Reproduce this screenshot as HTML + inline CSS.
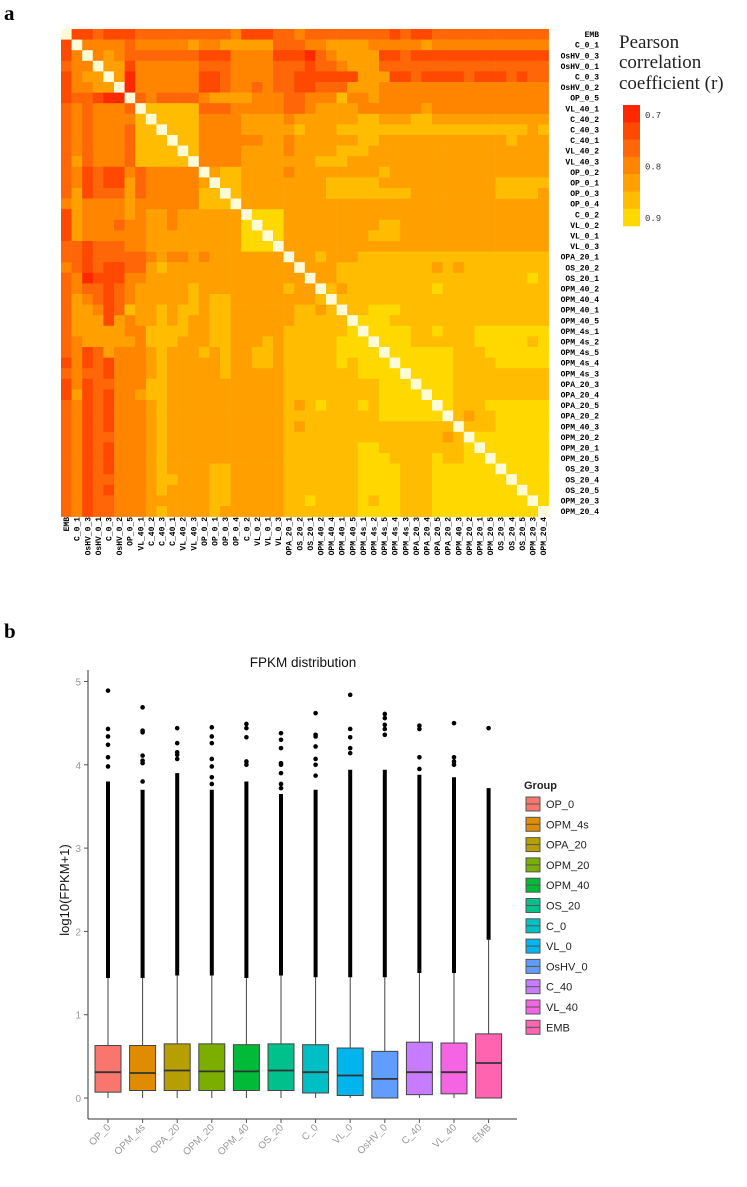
<!DOCTYPE html>
<html><head><meta charset="utf-8">
<style>
html,body{margin:0;padding:0;background:#fff;}
body{width:747px;height:1187px;overflow:hidden;}
svg{display:block;}
</style></head>
<body>
<svg id="fig" width="747" height="1187" viewBox="0 0 747 1187" xmlns="http://www.w3.org/2000/svg">
<text x="4" y="20" font-family="Liberation Serif, serif" font-weight="bold" font-size="21">a</text>
<text x="4" y="638" font-family="Liberation Serif, serif" font-weight="bold" font-size="21">b</text>
<g id="heat"></g>
<g id="legendA">
<text x="619" y="48" font-family="Liberation Serif, serif" font-size="19" fill="#222">Pearson</text>
<text x="619" y="68" font-family="Liberation Serif, serif" font-size="19" fill="#222">correlation</text>
<text x="619" y="89" font-family="Liberation Serif, serif" font-size="19" fill="#222">coefficient (r)</text>
</g>
<g id="box"></g>
</svg>
<script>
const labels=["EMB","C_0_1","OsHV_0_3","OsHV_0_1","C_0_3","OsHV_0_2","OP_0_5","VL_40_1","C_40_2","C_40_3","C_40_1","VL_40_2","VL_40_3","OP_0_2","OP_0_1","OP_0_3","OP_0_4","C_0_2","VL_0_2","VL_0_1","VL_0_3","OPA_20_1","OS_20_2","OS_20_1","OPM_40_2","OPM_40_4","OPM_40_1","OPM_40_5","OPM_4s_1","OPM_4s_2","OPM_4s_5","OPM_4s_4","OPM_4s_3","OPA_20_3","OPA_20_4","OPA_20_5","OPA_20_2","OPM_40_3","OPM_20_2","OPM_20_1","OPM_20_5","OS_20_3","OS_20_4","OS_20_5","OPM_20_3","OPM_20_4"];
// upper triangle (j>i) levels 0 (r=0.7) .. 6 (r>=0.9)
const upper=[
"112111222222222311122322222222121122222222222",
"33332333334334444422233444433333433333333333",
"3432222222111333311102344441121111111111111",
"441333333222333322212234442222222222222222",
"40333333112333322111111444112111121112122",
"0333333112332322112224443333333333333333",
"232222344443332233353343333333333333333",
"55555222333332234444333333433333333333",
"5555333344443444444554445544444444444",
"555333344444544455555555555555555545555",
"55333333443444444554444444444445444444",
"5333344443444455544444444444444444444",
"333344444445554444444444444444444",
"45544443444444445444444444444444",
"5544444444555554444444444455555",
"544444444555555554444444455554",
"44444444444444444444444444444",
"6664444444444444444444444444",
"664444444445544444444444444444",
"64444444455544444444444444",
"4444444444444444444444444",
"445444555555555555555555",
"44455555555545455555555",
"4455555555555555555565",
"545555555565555555555",
"55555555555555555555",
"5566655555555555555",
"666555555555555555",
"66665565556666666",
"6665555556666656",
"666666555666666",
"66666555566666",
"6666555555555",
"666555555555",
"66555555555",
"6555666666",
"545566666",
"55566666",
"6666666",
"666666",
"66666",
"6666",
"666",
"66",
"6"];
const levelColors=["#ff2800","#ff4800","#ff6608","#ff8400","#ffa000","#ffbc00","#ffd800"];
const legendVals=["0.7","0.8","0.9"];
const NS="http://www.w3.org/2000/svg";
function mk(tag,attrs,parent){const e=document.createElementNS(NS,tag);for(const k in attrs)e.setAttribute(k,attrs[k]);parent.appendChild(e);return e;}
const heat=document.getElementById('heat');
const n=labels.length, x0=61, y0=29, cs=10.6;
function cx(j){return x0+j*cs;}
function cy(i){return y0+i*cs;}
function level(i,j){if(i===j)return -1;const a=Math.min(i,j),b=Math.max(i,j);const s=upper[a]||"";const ch=s[b-a-1];return ch===undefined?4:+ch;}
for(let i=0;i<n;i++){for(let j=0;j<n;j++){
 const l=level(i,j);
 const r=mk('rect',{x:cx(j).toFixed(2),y:cy(i).toFixed(2),width:(cs+0.3).toFixed(2),height:(cs+0.3).toFixed(2),fill:l<0?'#fffbd6':levelColors[l]},heat);
 
 
}}
for(let i=0;i<n;i++){
 const t=mk('text',{x:599,y:(cy(i)+cs/2+2.8).toFixed(2),'text-anchor':'end','font-family':'Liberation Mono, monospace','font-weight':'bold','font-size':'8',fill:'#000'},heat);
 t.textContent=labels[i];
 
 
 const c=mk('text',{transform:`translate(${(cx(i)+cs/2+2.8).toFixed(2)},517) rotate(-90)`,'text-anchor':'end','font-family':'Liberation Mono, monospace','font-weight':'bold','font-size':'8',fill:'#000'},heat);
 c.textContent=labels[i];
 
 
}
const legA=document.getElementById('legendA');
for(let k=0;k<7;k++){
 const r=mk('rect',{x:623,y:(105+k*17.3).toFixed(2),width:17,height:17.6,fill:levelColors[k]},legA);
 
 
}
legendVals.forEach((v,k)=>{
 const t=mk('text',{x:645,y:118+k*51.5,'font-family':'Liberation Mono, monospace','font-size':'9',fill:'#333'},legA);
 t.textContent=v;
 
 
});

// Box plot data
const groups=["OP_0","OPM_4s","OPA_20","OPM_20","OPM_40","OS_20","C_0","VL_0","OsHV_0","C_40","VL_40","EMB"];
const boxColors=["#F8766D","#DE8C00","#B79F00","#7CAE00","#00BA38","#00C08B","#00BFC4","#00B4F0","#619CFF","#C77CFF","#F564E3","#FF64B0"];
const q1=[0.07,0.09,0.09,0.09,0.09,0.09,0.06,0.03,0.0,0.04,0.05,0.0];
const med=[0.31,0.30,0.33,0.32,0.32,0.33,0.31,0.27,0.23,0.31,0.31,0.42];
const q3=[0.63,0.63,0.65,0.65,0.64,0.65,0.64,0.60,0.56,0.67,0.66,0.77];
const whiskerLow=[0,0,0,0,0,0,0,0,0,0,0,0];
const whiskerHigh=[1.44,1.44,1.47,1.47,1.44,1.47,1.45,1.45,1.45,1.5,1.5,1.9];
const denseTop=[3.8,3.7,3.9,3.7,3.8,3.65,3.7,3.94,3.94,3.88,3.85,3.72];
const outliers=[
 [3.98,4.09,4.24,4.34,4.43,4.89],
 [3.8,4.02,4.05,4.11,4.39,4.41,4.69],
 [4.07,4.12,4.15,4.26,4.44],
 [3.77,3.85,3.98,4.07,4.26,4.34,4.45],
 [4.0,4.04,4.33,4.44,4.49],
 [3.72,3.77,3.9,4.0,4.02,4.2,4.3,4.38],
 [3.87,4.0,4.07,4.22,4.34,4.36,4.62],
 [4.14,4.2,4.33,4.43,4.84],
 [4.36,4.43,4.48,4.56,4.61],
 [3.95,4.09,4.43,4.47],
 [4.0,4.04,4.09,4.5],
 [4.44]];
const yTicks=[0,1,2,3,4,5];
const box=document.getElementById('box');
function yv(v){return 1098-v*83.3;}
function xg(i){return 108+i*34.6;}
const tt=mk('text',{x:303,y:667,'text-anchor':'middle','font-family':'Liberation Sans, sans-serif','font-size':'13.5',fill:'#111'},box);
tt.textContent='FPKM distribution';


const yt=mk('text',{transform:'translate(69,890) rotate(-90)','text-anchor':'middle','font-family':'Liberation Sans, sans-serif','font-size':'13',fill:'#111'},box);
yt.textContent='log10(FPKM+1)';


const ya=mk('line',{x1:88,y1:670,x2:88,y2:1119,stroke:'#333','stroke-width':1},box);


const xa=mk('line',{x1:88,y1:1119,x2:517,y2:1119,stroke:'#333','stroke-width':1},box);


yTicks.forEach(v=>{
 const l=mk('line',{x1:84,y1:yv(v),x2:88,y2:yv(v),stroke:'#555'},box);
 
 
 const t=mk('text',{x:81,y:yv(v)+4,'text-anchor':'end','font-family':'Liberation Sans, sans-serif','font-size':'10',fill:'#999'},box);
 t.textContent=v;
 
 
});
groups.forEach((g,i)=>{
 const x=xg(i), w=26;
 const wl=mk('line',{x1:x,y1:yv(whiskerLow[i]),x2:x,y2:yv(whiskerHigh[i]),stroke:'#444','stroke-width':1},box);
 
 
 const d=mk('line',{x1:x,y1:yv(whiskerHigh[i]),x2:x,y2:yv(denseTop[i]),stroke:'#000','stroke-width':4},box);
 
 
 outliers[i].forEach(v=>{
  const c=mk('circle',{cx:x,cy:yv(v),r:2.3,fill:'#000'},box);
  
  
 });
 const r=mk('rect',{x:x-w/2,y:yv(q3[i]),width:w,height:yv(q1[i])-yv(q3[i]),fill:boxColors[i],stroke:'#444','stroke-width':1},box);
 
 
 const m=mk('line',{x1:x-w/2,y1:yv(med[i]),x2:x+w/2,y2:yv(med[i]),stroke:'#333','stroke-width':1.8},box);
 
 
 const tk=mk('line',{x1:x,y1:1119,x2:x,y2:1123,stroke:'#555'},box);
 
 
 const t=mk('text',{transform:`translate(${x+3},1128) rotate(-45)`,'text-anchor':'end','font-family':'Liberation Sans, sans-serif','font-size':'10',fill:'#999'},box);
 t.textContent=g;
 
 
 const ly=797+i*20.3;
 const lr=mk('rect',{x:526,y:ly,width:14,height:14,fill:boxColors[i],stroke:'#555','stroke-width':1},box);
 
 
 const ll=mk('line',{x1:526,y1:ly+7,x2:540,y2:ly+7,stroke:'#555','stroke-width':1},box);
 
 
 const lt=mk('text',{x:546,y:ly+11,'font-family':'Liberation Sans, sans-serif','font-size':'11',fill:'#222'},box);
 lt.textContent=g;
 
 
});
const gt=mk('text',{x:524,y:789,'font-family':'Liberation Sans, sans-serif','font-size':'11','font-weight':'bold',fill:'#222'},box);
gt.textContent='Group';


</script>
</body></html>
